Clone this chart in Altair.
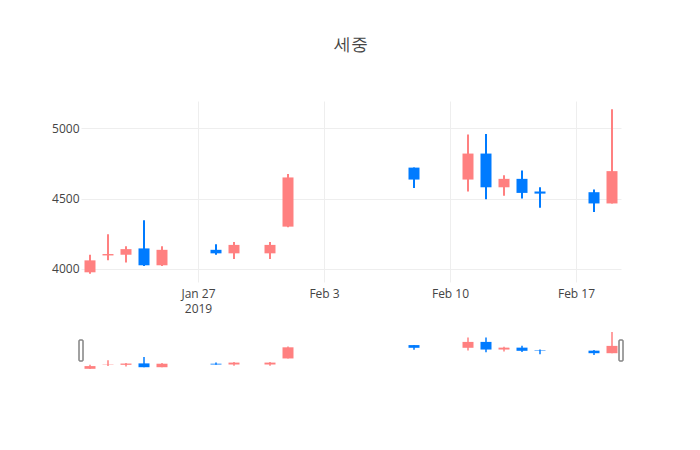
import altair as alt
import pandas as pd

dates = ["2019-01-21", "2019-01-22", "2019-01-23", "2019-01-24", "2019-01-25",
         "2019-01-28", "2019-01-29", "2019-01-31", "2019-02-01", "2019-02-08",
         "2019-02-11", "2019-02-12", "2019-02-13", "2019-02-14", "2019-02-15",
         "2019-02-18", "2019-02-19"]
opens = [3975, 4095, 4100, 4145, 4025, 4135, 4110, 4110, 4300, 4720,
         4635, 4820, 4580, 4640, 4550, 4545, 4465]
highs = [4100, 4245, 4160, 4345, 4160, 4175, 4190, 4190, 4675, 4720,
         4955, 4960, 4665, 4700, 4580, 4565, 5135]
lows = [3965, 4060, 4045, 4020, 4020, 4100, 4070, 4070, 4295, 4575,
        4550, 4495, 4520, 4500, 4435, 4405, 4465]
closes = [4060, 4105, 4140, 4025, 4135, 4110, 4170, 4170, 4650, 4635,
          4820, 4580, 4640, 4540, 4535, 4465, 4695]

title_text = "세중"
y_ticks = [4000, 4500, 5000]
range_ends = ["2019-01-20T12:00:00Z", "2019-02-19T12:00:00Z"]

df = pd.DataFrame({"date": dates, "open": opens, "high": highs,
                   "low": lows, "close": closes})
df["dir"] = ["up" if c >= o else "down" for o, c in zip(opens, closes)]
handles = pd.DataFrame({"date": range_ends})

UP = "#FF8080"
DOWN = "#007BFF"
FONT = "Open Sans"

x_domain = [alt.DateTime(year=2019, month=1, date=20, hours=12, utc=True),
            alt.DateTime(year=2019, month=2, date=19, hours=12, utc=True)]
x_ticks = [alt.DateTime(year=2019, month=m, date=d, utc=True)
           for m, d in [(1, 27), (2, 3), (2, 10), (2, 17)]]
y_domain = [3906, 5194]

color = alt.Color("dir:N", scale=alt.Scale(domain=["up", "down"], range=[UP, DOWN]),
                  legend=None)

xscale = alt.Scale(type="utc", domain=x_domain, padding=0)

x_axis = alt.Axis(
    values=x_ticks, title=None, grid=True, gridColor="#eeeeee", ticks=False,
    tickSize=0, domain=False, labelPadding=6, labelColor="#444444",
    labelFontSize=12, labelFont=FONT, labelLineHeight=15,
    labelExpr="utcmonth(datum.value) == 0 ? [utcFormat(datum.value, '%b %-d'), utcFormat(datum.value, '%Y')] : utcFormat(datum.value, '%b %-d')",
)
y_axis = alt.Axis(values=y_ticks, title=None, grid=True, gridColor="#eeeeee",
                  ticks=False, tickSize=0, domain=False, labelPadding=2, format="d",
                  labelColor="#444444", labelFontSize=12, labelFont=FONT)

base = alt.Chart(df)

wick = base.mark_rule(strokeWidth=2).encode(
    x=alt.X("date:T", scale=xscale, axis=x_axis),
    y=alt.Y("low:Q", scale=alt.Scale(domain=y_domain, nice=False, zero=False), axis=y_axis),
    y2="high:Q",
    color=color,
)
body = base.mark_bar(size=11).encode(
    x=alt.X("date:T", scale=xscale),
    y=alt.Y("open:Q"),
    y2="close:Q",
    color=color,
)
main = (wick + body).properties(
    width=540, height=181,
    title=alt.TitleParams(title_text, anchor="middle", frame="group", fontSize=17,
                          font=FONT, color="#444444", fontWeight="normal", offset=47),
)

s_wick = base.mark_rule(strokeWidth=1.5).encode(
    x=alt.X("date:T", scale=xscale, axis=None),
    y=alt.Y("low:Q", scale=alt.Scale(domain=y_domain, nice=False, zero=False), axis=None),
    y2="high:Q",
    color=color,
)
s_body = base.mark_bar(size=11).encode(
    x=alt.X("date:T", scale=xscale),
    y=alt.Y("open:Q"),
    y2="close:Q",
    color=color,
)
s_handle = alt.Chart(handles).mark_bar(
    size=4, fill="white", stroke="#444444", strokeWidth=1, cornerRadius=0.5
).encode(
    x=alt.X("date:T", scale=xscale),
    y=alt.value(10), y2=alt.value(31),
)
slider = (s_wick + s_body + s_handle).properties(width=540, height=41)

chart = alt.vconcat(main, slider, spacing=16).configure_view(stroke=None).properties(
    padding={"left": 43, "top": 28, "right": 5, "bottom": 5},
    background="white",
)

chart.save("out.html", embed_options={"renderer": "svg", "actions": False})
